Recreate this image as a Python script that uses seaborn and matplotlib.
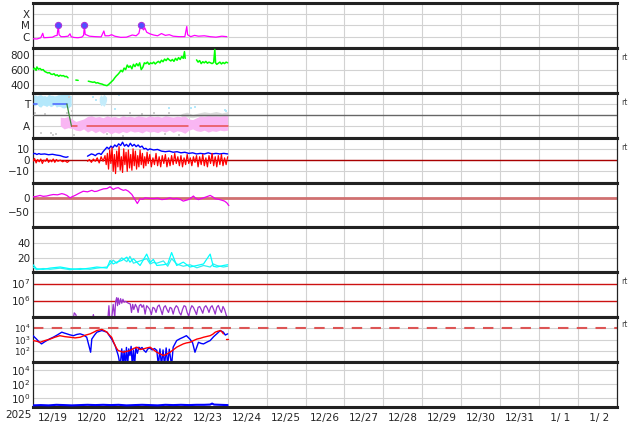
import numpy as np
import matplotlib
matplotlib.use("Agg")
import matplotlib.pyplot as plt
from matplotlib.ticker import NullLocator
import seaborn as sns

NAN = np.nan

# ---------------- data (x in days since 2025-12-19 00:00) ----------------
day_labels = ["12/19", "12/20", "12/21", "12/22", "12/23", "12/24", "12/25", "12/26",
              "12/27", "12/28", "12/29", "12/30", "12/31", " 1/ 1", " 1/ 2"]

xray_day = [0.00, 0.10, 0.20, 0.25, 0.28, 0.40, 0.50, 0.57, 0.62, 0.65, 0.67, 0.72, 0.80, 0.90,
            0.95, 0.98, 1.05, 1.15, 1.25, 1.30, 1.32, 1.34, 1.45, 1.60, 1.75, 1.82, 1.85, 1.95,
            2.02, 2.10, 2.25, 2.40, 2.55, 2.65, 2.72, 2.77, 2.80, 2.84, 2.87, 2.92, 3.00, 3.10,
            3.20, 3.30, 3.40, 3.50, 3.60, 3.75, 3.90, 3.95, 3.97, 4.05, 4.15, 4.25, 4.40, 4.55,
            4.70, 4.85, 4.98]
xray_flux = [6.5e-7, 6.2e-7, 8e-7, 2.0e-6, 8e-7, 8.5e-7, 9e-7, 1.2e-6, 1.3e-6, 1.0e-5, 1.5e-6,
             1.0e-6, 1.0e-6, 1.1e-6, 1.8e-6, 1.0e-6, 8.5e-7, 8.0e-7, 9e-7, 1.3e-6, 1.0e-5, 1.6e-6,
             1.1e-6, 1.0e-6, 9.5e-7, 3.2e-6, 1.2e-6, 1.2e-6, 1.5e-6, 1.1e-6, 8.7e-7, 9e-7, 1.4e-6,
             1.2e-6, 2.0e-6, 1.2e-5, 6e-6, 4e-6, 6.2e-6, 2.5e-6, 1.8e-6, 1.4e-6, 1.2e-6, 1.9e-6,
             1.3e-6, 1.5e-6, 1.1e-6, 1.0e-6, 1.0e-6, 8.1e-6, 1.5e-6, 1.0e-6, 1.3e-6, 1.1e-6,
             1.2e-6, 1.0e-6, 9e-7, 1.1e-6, 1.0e-6]
flare_day = [0.65, 1.32, 2.77]
flare_flux = [1.0e-5, 1.0e-5, 1.2e-5]

speed_day = [0.00, 0.04, 0.08, 0.10, 0.14, 0.18, 0.22, 0.26, 0.30, 0.34, 0.38, 0.42, 0.46, 0.50,
             0.54, 0.58, 0.62, 0.66, 0.70, 0.74, 0.78, 0.82, 0.86, 0.90, 0.95,
             1.10, 1.16, 1.20,
             1.42, 1.46, 1.50, 1.54, 1.58, 1.62, 1.66, 1.70, 1.74, 1.78, 1.82, 1.86, 1.90, 1.94,
             1.98, 2.02, 2.06, 2.10, 2.14, 2.18, 2.22, 2.26, 2.30, 2.34, 2.38, 2.42, 2.46, 2.50,
             2.54, 2.58, 2.62, 2.66, 2.70, 2.74, 2.78, 2.82, 2.86, 2.90, 2.94, 2.98, 3.02, 3.06,
             3.10, 3.14, 3.18, 3.22, 3.26, 3.30, 3.34, 3.38, 3.42, 3.46, 3.50, 3.54, 3.58, 3.62,
             3.66, 3.70, 3.74, 3.78, 3.82, 3.86, 3.89, 3.91, 3.95,
             4.20, 4.24, 4.28, 4.32, 4.36, 4.40, 4.44, 4.48, 4.52, 4.56, 4.60, 4.64, 4.67, 4.69,
             4.72, 4.76, 4.80, 4.84, 4.88, 4.92, 4.96, 5.00]
speed_kms = [610, 630, 600, 645, 615, 625, 605, 610, 585, 575, 565, 570, 550, 545,
             555, 530, 540, 520, 535, 525, 530, 515, 520, 500, NAN,
             470, 466, NAN,
             455, 450, 445, 440, 445, 430, 435, 425, 420, 415, 405, 400, 395, 410,
             430, 450, 470, 500, 525, 545, 570, 600, 580, 630, 610, 670, 640, 660,
             620, 680, 650, 690, 660, 700, 610, 640, 700, 690, 710, 680, 700, 690,
             710, 685, 705, 720, 700, 735, 715, 750, 730, 760, 740, 725, 745, 720,
             760, 735, 770, 745, 785, 760, 850, 760, NAN,
             740, 710, 730, 690, 715, 700, 720, 695, 710, 700, 690, 705, 880, 700,
             680, 695, 710, 685, 705, 690, 710, 700]

phi_lines_day = [0.00, 0.09, NAN, 0.51, 0.87, 0.99, 1.12, NAN, 1.38, 3.99, NAN, 4.29, 5.00]
phi_lines_deg = [270, 270, NAN, 270, 270, 90, 90, NAN, 90, 90, NAN, 90, 90]

toward_day = [0.00, 0.05, 0.10, 0.15, 0.20, 0.25, 0.30, 0.35, 0.40, 0.45, 0.50, 0.55, 0.60,
              0.65, 0.70, 0.75, 0.80, 0.85, 0.90, 0.95, 0.98]
toward_lo = [265, 255, 270, 250, 245, 262, 258, 250, 262, 248, 255, 265, 245, 252, 250, 240,
             238, 245, 235, 250, 255]
toward_hi = [330, 345, 335, 342, 345, 335, 338, 330, 348, 340, 340, 335, 338, 345, 345, 350,
             350, 355, 352, 340, 338]

toward2_day = [1.70, 1.74, 1.78, 1.82, 1.86, 1.89]
toward2_lo = [290, 255, 265, 250, 270, 300]
toward2_hi = [320, 345, 330, 350, 335, 325]

away_day = [0.70, 0.80, 0.90, 1.00, 1.10, 1.20, 1.30, 1.40, 1.50, 1.60, 1.70, 1.80, 1.90,
            2.00, 2.10, 2.20, 2.30, 2.40, 2.50, 2.60, 2.70, 2.80, 2.90, 3.00, 3.10, 3.20,
            3.30, 3.40, 3.50, 3.60, 3.70, 3.80, 3.90, 4.00, 4.10, 4.20, 4.30, 4.40, 4.50,
            4.60, 4.70, 4.80, 4.90, 5.00]
away_lo = [95, 70, 80, 75, 60, 55, 70, 45, 60, 40, 55, 35, 50, 30, 45, 35, 50, 40, 55, 45,
           50, 38, 55, 45, 50, 40, 55, 45, 60, 42, 55, 50, 35, 60, 70, 55, 50, 60, 45, 55,
           50, 60, 55, 60]
away_hi = [165, 160, 170, 150, 130, 140, 150, 170, 175, 165, 170, 160, 175, 165, 170, 160,
           175, 168, 172, 165, 175, 170, 165, 175, 168, 172, 165, 175, 170, 165, 172, 168,
           175, 150, 145, 160, 175, 170, 178, 172, 175, 170, 178, 175]

gray_day = [3.80, 3.95, 4.10, 4.25, 4.40, 4.55, 4.70, 4.85, 5.00]
gray_lo = [170, 165, 160, 170, 172, 168, 172, 168, 172]
gray_hi = [192, 205, 185, 198, 208, 200, 210, 198, 210]

dots_gray_day = [0.30, 0.45, 0.52, 0.60, 0.88, 0.93, 1.00, 1.05, 1.60, 1.90, 2.02, 2.30,
                 2.50, 2.80, 3.10, 3.40, 3.50, 3.75, 0.05, 0.20]
dots_gray_deg = [190, 40, 25, 30, 200, 330, 210, 25, 350, 30, 355, 15, 195, 190, 200, 30,
                 195, 25, 200, 40]
dots_blue_day = [2.20, 2.10, 3.50, 4.05, 4.15, 4.92, 4.96, 1.55, 1.62]
dots_blue_deg = [345, 232, 240, 235, 245, 225, 212, 330, 300]

bt_day = [0.00, 0.05, 0.10, 0.15, 0.20, 0.30, 0.40, 0.50, 0.60, 0.70, 0.78, 0.85, 0.90, 0.95,
          1.40, 1.45, 1.50, 1.55, 1.60, 1.65, 1.70, 1.75, 1.80, 1.85, 1.90, 1.95, 2.00, 2.05,
          2.10, 2.15, 2.20, 2.25, 2.30, 2.35, 2.40, 2.45, 2.50, 2.55, 2.60, 2.65, 2.70, 2.75,
          2.80, 2.85, 2.90, 2.95, 3.00, 3.10, 3.20, 3.30, 3.40, 3.50, 3.60, 3.70, 3.80, 3.90,
          4.00, 4.10, 4.20, 4.30, 4.40, 4.50, 4.60, 4.70, 4.80, 4.90, 5.00]
bt_nt = [5.5, 6.0, 5.0, 5.8, 5.2, 5.5, 4.8, 5.2, 4.5, 4.0, 3.0, 2.5, 3.0, NAN,
         3.5, 4.5, 5.5, 5.0, 4.0, 5.5, 6.0, 5.0, 7.5, 9.5, 11.5, 10.0, 12.5, 11.0,
         13.5, 12.0, 14.5, 13.0, 16.0, 12.5, 14.0, 12.0, 15.0, 12.5, 14.0, 12.0, 13.5, 11.5,
         12.5, 10.0, 10.5, 9.0, 10.0, 9.0, 9.5, 8.0, 7.5, 8.0, 7.0, 7.5, 6.5, 7.0,
         6.0, 6.5, 5.5, 6.0, 5.5, 6.5, 5.5, 6.0, 5.5, 6.0, 5.5]

bz_day = [0.00, 0.04, 0.08, 0.12, 0.16, 0.20, 0.24, 0.28, 0.32, 0.36, 0.40, 0.44, 0.48, 0.52,
          0.56, 0.60, 0.64, 0.70, 0.76, 0.82, 0.88, 0.92, 0.95,
          1.40, 1.45, 1.50, 1.55, 1.60, 1.65, 1.70, 1.75, 1.80, 1.85, 1.88, 1.91, 1.94, 1.97,
          2.00, 2.03, 2.06, 2.09, 2.12, 2.15, 2.18, 2.21, 2.24, 2.27, 2.30, 2.33, 2.36, 2.39,
          2.42, 2.45, 2.48, 2.51, 2.54, 2.57, 2.60, 2.63, 2.66, 2.69, 2.72, 2.75, 2.78, 2.81,
          2.84, 2.87, 2.90, 2.93, 2.96, 3.00, 3.04, 3.08, 3.12, 3.16, 3.20, 3.24, 3.28, 3.32,
          3.36, 3.40, 3.44, 3.48, 3.52, 3.56, 3.60, 3.64, 3.68, 3.72, 3.76, 3.80, 3.84, 3.88,
          3.92, 3.96, 4.00, 4.04, 4.08, 4.12, 4.16, 4.20, 4.24, 4.28, 4.32, 4.36, 4.40, 4.44,
          4.48, 4.52, 4.56, 4.60, 4.64, 4.68, 4.72, 4.76, 4.80, 4.84, 4.88, 4.92, 4.96, 5.00]
bz_nt = [-1, 1.5, -2.5, 0.5, -1.5, 1, -3, 0, -1, 1.5, -2, 0, -1.5, 1,
         -2, 0.5, -1, 0, -1.5, -0.5, -2, -1, NAN,
         -1, 0.5, -2, 1, -1, 2, -2.5, 3, -1, 4, -4, 6, -8, 9,
         -3, 11, -10, 5, -12, 8, -6, 12, -9, 3, -11, 10, -4, 7,
         -10, 9, -7, 5, -9, 10, -5, 8, -8, 4, -6, 9, -4, 6,
         -7, 3, -5, 7, -3, 5, -6, 2, -4, 6, -5, 3, -6, 4,
         -3, 5, -6, 2, -5, 4, -4, 6, -3, 3, -5, 4, -6, 2,
         -4, 5, -3, 2, -5, 3, -2, 4, -6, 3, -4, 5, -5, 2,
         -6, 4, -3, 6, -5, 3, -6, 4, -4, 5, -5, 2, -4, 3]

dst_day = [0.00, 0.09, 0.18, 0.26, 0.35, 0.44, 0.52, 0.63, 0.74, 0.80, 0.87, 0.95, 1.01, 1.08,
           1.18, 1.29, 1.40, 1.51, 1.58, 1.64, 1.72, 1.81, 1.90, 1.98, 2.06, 2.12, 2.19, 2.25,
           2.32, 2.38, 2.45, 2.54, 2.62, 2.68, 2.75, 2.82, 2.88, 2.98, 3.09, 3.20, 3.31, 3.42,
           3.52, 3.60, 3.69, 3.78, 3.86, 3.99, 4.05, 4.12, 4.18, 4.25, 4.31, 4.38, 4.47, 4.55,
           4.62, 4.68, 4.77, 4.85, 4.92, 4.98, 5.03]
dst_nt = [2, 4, 7, 4, 5, 8, 10, 9, 13, 11, 7, -1, 3, 7,
          14, 21, 19, 24, 20, 21, 25, 29, 30, 36, 27, 31, 33, 28,
          24, 26, 21, 10, -7, -20, -4, -6, -1, -3, -4, -2, -7, -5,
          -1, -5, -3, -6, -12, -7, -2, 5, -3, -7, -4, -1, 3, 7,
          2, -4, -6, -9, -12, -18, -27]

dens_day = [0.00, 0.09, 0.26, 0.44, 0.70, 0.95, 1.21, 1.47, 1.64, 1.90, 1.98, 2.06, 2.15, 2.28,
            2.41, 2.49, 2.58, 2.75, 2.92, 3.01, 3.09, 3.18, 3.35, 3.46, 3.56, 3.69, 3.86, 4.03,
            4.21, 4.38, 4.55, 4.63, 4.72, 4.89, 5.00]
dens_a = [11, 5.7, 4.9, 6.6, 8, 5.7, 4.9, 6.6, 8, 6.6, 16.6, 12, 14.4, 16.6,
          21, 14.4, 18.8, 10, 25, 14, 18, 10, 11, 12, 27, 10, 14.4, 8,
          10, 12, 25, 9, 8, 10, 11]
dens_b = [8, 4.5, 6.0, 5.0, 6.5, 4.5, 6.0, 5.0, 6.5, 8.0, 12, 17, 13, 20,
          15, 22, 13, 16, 19, 12, 14, 13, 16, 9, 19, 12, 9, 11,
          7, 10, 8, 12, 10, 8, 9]

elec_day = [1.02, 1.06, 1.10, 1.14, 1.52, 1.55, 1.58,
            1.92, 1.95, 1.97, 2.02, 2.06, 2.10, 2.12, 2.15, 2.17, 2.19, 2.22, 2.25, 2.28, 2.31,
            2.34, 2.37, 2.41, 2.45, 2.50, 2.53, 2.56, 2.59, 2.63, 2.67, 2.70, 2.73, 2.77, 2.80,
            2.84, 2.88, 2.92, 2.96, 3.00, 3.04, 3.08, 3.12, 3.16, 3.20, 3.24, 3.28, 3.32, 3.36,
            3.40, 3.44, 3.48, 3.52, 3.56, 3.60, 3.64, 3.68, 3.72, 3.76, 3.80, 3.84, 3.88, 3.92,
            3.96, 4.00, 4.04, 4.08, 4.12, 4.16, 4.20, 4.24, 4.28, 4.32, 4.36, 4.40, 4.44, 4.48,
            4.52, 4.56, 4.60, 4.64, 4.68, 4.72, 4.76, 4.80, 4.84, 4.88, 4.92, 4.96, 5.00]
elec_flux = [6e4, 1.9e5, 1.5e5, 6e4, 7e4, 1.5e5, 7e4,
             7e4, 5e5, 9e4, 8e4, 6e5, 1e5, 8e5, 1.5e6, 5e5, 1.4e6, 6e5, 1.3e6, 7e5, 1.2e6,
             8e5, 9e5, 8e5, 7e5, 6.3e5, 2e5, 6e5, 3e5, 6e5, 4e5, 2e5, 5e5, 6e5, 4e5,
             5.5e5, 1.6e5, 5e5, 4e5, 3e5, 1.5e5, 4e5, 3.5e5, 2e5, 4.5e5, 5.5e5, 3e5, 1.5e5, 4e5,
             5e5, 3e5, 2e5, 4e5, 3.5e5, 1.6e5, 3.5e5, 5e5, 4e5, 2e5, 1.4e5, 3e5, 5e5, 4.5e5,
             2e5, 1.2e5, 3e5, 5e5, 4e5, 2.5e5, 1.5e5, 4e5, 4.5e5, 3e5, 1.8e5, 4e5, 5e5, 3.5e5,
             2e5, 4e5, 5e5, 3e5, 1.6e5, 4e5, 5.2e5, 3e5, 2e5, 4.5e5, 3e5, 1.5e5, 8e4]

prot_blue_day = [0.00, 0.09, 0.16, 0.22, 0.29, 0.35, 0.44, 0.52, 0.62, 0.74, 0.80, 0.87, 0.95,
                 1.04, 1.12, 1.21, 1.30, 1.38, 1.48, 1.51, 1.58, 1.64, 1.77, 1.90, 2.02, 2.11,
                 2.19, 2.24, 2.28, 2.31, 2.34, 2.37, 2.40, 2.43, 2.46, 2.49, 2.52, 2.55, 2.58,
                 2.61, 2.64, 2.68, 2.72, 2.76, 2.80, 2.85, 2.90, 2.95, 3.00, 3.06, 3.12, 3.18,
                 3.22, 3.26, 3.30, 3.34, 3.38, 3.42, 3.46, 3.50, 3.56, 3.60, 3.69, 3.78, 3.86,
                 3.94, 4.03, 4.10, 4.16, 4.25, 4.32, 4.38, 4.47, 4.55, 4.64, 4.72, 4.81, 4.89,
                 4.94, 5.00]
prot_blue = [2.2e3, 1.1e3, 6e2, 4.1e2, 6e2, 8e2, 1.2e3, 1.6e3, 2.5e3, 4.5e3, 3.8e3, 3.2e3, 2.6e3,
             2.2e3, 2.8e3, 3.2e3, 2.5e3, 1.6e3, 75, 1.1e3, 2.5e3, 4.5e3, 6.3e3, 4.5e3, 1.1e3, 2.9e2,
             38, 5, 150, 5, 100, 5, 200, 5, 150, 38, 250, 5, 120,
             5, 200, 60, 210, 150, 200, 110, 75, 150, 180, 120, 160, 110,
             5, 150, 5, 120, 5, 180, 5, 140, 5, 210, 8.1e2, 1.2e3, 1.6e3,
             2.2e3, 1.1e3, 5e2, 75, 5.7e2, 4.5e2, 4.1e2, 6e2, 8.1e2, 1.8e3, 3.2e3, 6.3e3, 4.5e3,
             2.5e3, 3.2e3]
prot_red_day = [0.00, 0.10, 0.18, 0.30, 0.44, 0.56, 0.69, 0.82, 0.95, 1.08, 1.21, 1.34, 1.47,
                1.56, 1.64, 1.70, 1.77, 1.84, 1.90, 1.96, 2.02, 2.07, 2.11, 2.15, 2.19, 2.25,
                2.32, 2.40, 2.49, 2.58, 2.67, 2.75, 2.84, 2.92, 3.01, 3.10, 3.18, 3.26, 3.35,
                3.43, 3.52, 3.60, 3.69, 3.78, 3.86, 3.94, 4.03, 4.12, 4.21, 4.30, 4.38, 4.47,
                4.55, 4.62, 4.68, 4.75, 4.81, 4.86, 4.89, 4.93, 4.97, 5.02]
prot_red = [8.1e2, 7e2, 5.7e2, 8e2, 1.1e3, 1.6e3, 2.2e3, 1.8e3, 1.6e3, 1.4e3, 1.6e3, 2.4e3, 3.2e3,
            4.5e3, 6.3e3, 7e3, 8e3, 6e3, 4.5e3, 2.5e3, 1.6e3, 6e2, 2.9e2, 1.6e2, 1.05e2, 90,
            75, 90, 1.05e2, 1.6e2, 2.1e2, 1.3e2, 1.5e2, 1.8e2, 2.1e2, 1.2e2, 75, 55, 38,
            50, 75, 1.2e2, 2.1e2, 3e2, 4.1e2, 5e2, 5.7e2, 8e2, 1.1e3, 1.3e3, 1.6e3, 1.9e3,
            2.2e3, 3e3, 4.5e3, 5.5e3, 6.3e3, 4.5e3, 3.2e3, NAN, 1.1e3, 1.1e3]

mag_day = [0.00, 0.20, 0.40, 0.60, 0.80, 1.00, 1.20, 1.40, 1.60, 1.80, 2.00, 2.20, 2.40, 2.60,
           2.80, 3.00, 3.20, 3.40, 3.60, 3.80, 4.00, 4.20, 4.40, 4.55, 4.60, 4.65, 4.80, 5.00]
mag_val = [0.10, 0.11, 0.10, 0.12, 0.11, 0.10, 0.11, 0.12, 0.11, 0.12, 0.11, 0.12, 0.10, 0.11,
           0.12, 0.11, 0.10, 0.12, 0.11, 0.12, 0.11, 0.12, 0.12, 0.13, 0.18, 0.13, 0.12, 0.11]

# ---------------- styling ----------------
sns.set_style("white")
plt.rcParams["font.family"] = ["DejaVu Sans"]
plt.rcParams["font.size"] = 7
plt.rcParams["mathtext.default"] = "regular"

fig, axes = plt.subplots(9, 1, figsize=(6.34, 4.24), dpi=100)
fig.subplots_adjust(left=33 / 634, right=617 / 634, top=1 - 3 / 424, bottom=1 - 407 / 424,
                    hspace=0)

GRID = "#d2d2d2"


def line(ax, xs, ys, color, lw=0.9, zorder=3):
    xs = np.asarray(xs, float)
    ys = np.asarray(ys, float)
    bad = np.isnan(ys) | np.isnan(xs)
    idx = np.where(bad)[0]
    starts = [0] + list(idx + 1)
    ends = list(idx) + [len(xs)]
    for s, e in zip(starts, ends):
        if e - s >= 2:
            sns.lineplot(x=xs[s:e], y=ys[s:e], ax=ax, color=color, lw=lw, estimator=None,
                         sort=False, legend=False, zorder=zorder)


for i, ax in enumerate(axes):
    ax.set_xlim(0, 15)
    ax.set_xticks(np.arange(1, 15))
    ax.set_xticks(np.arange(0.5, 15, 1), minor=True)
    ax.tick_params(axis="x", which="major", length=3, direction="in", labelbottom=False,
                   color="#444444", width=0.6)
    ax.tick_params(axis="x", which="minor", length=0, labelbottom=False)
    ax.tick_params(axis="y", which="major", length=2, direction="in", pad=2, labelsize=7.5,
                   color="#444444", width=0.6)
    ax.xaxis.grid(True, which="major", color=GRID, lw=0.8)
    ax.yaxis.grid(True, which="major", color=GRID, lw=0.8)
    ax.set_axisbelow(True)
    for s in ["top", "bottom"]:
        ax.spines[s].set_linewidth(2.2)
        ax.spines[s].set_color("#222222")
    for s in ["left", "right"]:
        ax.spines[s].set_linewidth(0.9)
        ax.spines[s].set_color("#222222")

# panel 1: X-ray
ax = axes[0]
ax.set_yscale("log")
line(ax, xray_day, xray_flux, "#ff00ff", 0.9)
sns.scatterplot(x=flare_day, y=flare_flux, ax=ax, s=20, color="#5050ff", edgecolor="#aa33dd",
                linewidth=0.8, zorder=5, legend=False)
ax.set_ylim(1e-7, 1e-3)
ax.set_yticks([1e-4, 1e-5, 1e-6])
ax.set_yticklabels(["X", "M", "C"])
ax.yaxis.set_minor_locator(NullLocator())

# panel 2: speed
ax = axes[1]
line(ax, speed_day, speed_kms, "#00ff00", 1.1)
ax.set_ylim(300, 900)
ax.set_yticks([400, 600, 800])

# panel 3: phi
ax = axes[2]
ax.fill_between(gray_day, gray_lo, gray_hi, color="#dcdcdc", lw=0, zorder=1)
ax.fill_between(toward_day, toward_lo, toward_hi, color="#b4e8fb", lw=0, zorder=2)
ax.fill_between(toward2_day, toward2_lo, toward2_hi, color="#c4ecfb", lw=0, zorder=2)
ax.fill_between(away_day, away_lo, away_hi, color="#f9b6f3", lw=0, zorder=2)
sns.scatterplot(x=dots_gray_day, y=dots_gray_deg, ax=ax, s=3, marker="s", color="#cfcfcf",
                linewidth=0, legend=False, zorder=2)
sns.scatterplot(x=dots_blue_day, y=dots_blue_deg, ax=ax, s=3, marker="s", color="#b4e8fb",
                linewidth=0, legend=False, zorder=2)
ax.axhline(180, color="#666666", lw=1.0, zorder=3)
pl_x = phi_lines_day
pl_y = phi_lines_deg
line(ax, pl_x[0:2], pl_y[0:2], "#4a63ff", 1.1, zorder=4)
line(ax, pl_x[3:5], pl_y[3:5], "#4a63ff", 1.1, zorder=4)
line(ax, pl_x[4:6], pl_y[4:6], "#3c8c3c", 0.9, zorder=4)
line(ax, pl_x[5:], pl_y[5:], "#e85050", 1.1, zorder=4)
ax.set_ylim(0, 360)
ax.set_yticks([90, 270])
ax.set_yticklabels(["A", "T"])

# panel 4: Bt / Bz
ax = axes[3]
ax.axhline(0, color="#aa0000", lw=1.0, zorder=2)
line(ax, bt_day, bt_nt, "#0000ff", 1.0)
line(ax, bz_day, bz_nt, "#ff0000", 0.9, zorder=4)
ax.set_ylim(-20, 20)
ax.set_yticks([-10, 0, 10])

# panel 5: Dst
ax = axes[4]
ax.axhline(0, color="#d07070", lw=2.0, zorder=2)
line(ax, dst_day, dst_nt, "#ee00ee", 0.9)
ax.set_ylim(-100, 50)
ax.set_yticks([-50, 0])

# panel 6: density
ax = axes[5]
line(ax, dens_day, dens_b, "#33eeee", 0.9)
line(ax, dens_day, dens_a, "#00ffff", 0.9)
ax.set_ylim(1, 60)
ax.set_yticks([20, 40])

# panel 7: electrons
ax = axes[6]
ax.set_yscale("log")
ax.yaxis.grid(False)
ax.axhline(1e7, color="#cc1111", lw=1.0, zorder=2)
ax.axhline(1e6, color="#cc1111", lw=1.0, zorder=2)
line(ax, elec_day, elec_flux, "#9933cc", 0.9)
ax.set_ylim(1.05e5, 4.6e7)
ax.set_yticks([1e6, 1e7])
ax.set_yticklabels(["$10^6$", "$10^7$"])
ax.yaxis.set_minor_locator(NullLocator())

# panel 8: protons
ax = axes[7]
ax.set_yscale("log")
ax.axhline(1e4, color="#dd5555", lw=1.5, ls=(0, (5, 4)), zorder=2)
line(ax, prot_blue_day, prot_blue, "#0000ff", 1.0)
line(ax, prot_red_day, prot_red, "#ff0000", 1.0, zorder=4)
ax.set_ylim(10, 9.5e4)
ax.set_yticks([1e2, 1e3, 1e4])
ax.set_yticklabels(["$10^2$", "$10^3$", "$10^4$"])
ax.tick_params(axis="y", labelsize=6.3)
ax.yaxis.set_minor_locator(NullLocator())

# panel 9: low-energy
ax = axes[8]
ax.set_yscale("log")
line(ax, mag_day, mag_val, "#0000ff", 1.5)
ax.set_ylim(0.059, 1.35e5)
ax.set_yticks([1e0, 1e2, 1e4])
ax.set_yticklabels(["$10^0$", "$10^2$", "$10^4$"])
ax.yaxis.set_minor_locator(NullLocator())
ax.set_xticklabels(day_labels, minor=True)
ax.tick_params(axis="x", which="minor", labelbottom=True, pad=4, labelsize=7.5)

for a in axes:
    a.set_xlabel("")
    a.set_ylabel("")

fig.text(5 / 634, 1 - 415 / 424, "2025", ha="left", va="center", fontsize=7.5)

for idx, yy in [(1, 0.78), (2, 0.785), (3, 0.785), (6, 0.785), (7, 0.845)]:
    axes[idx].text(1.008, yy, "rt", transform=axes[idx].transAxes, fontsize=5.5,
                   color="#444444", ha="left", va="center")

fig.savefig("out.png", dpi=100)
